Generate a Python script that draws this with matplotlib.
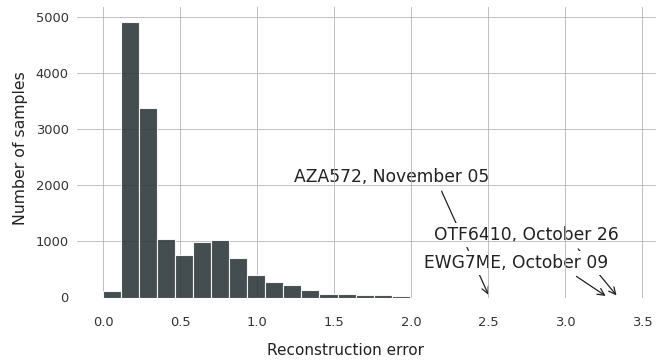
import matplotlib
matplotlib.use("Agg")
import matplotlib.pyplot as plt
import numpy as np

# histogram of reconstruction errors (17 equal bins)
bin_lo, bin_hi, n_bins = 0.0, 1.99, 17
counts = [115, 4900, 3380, 1045, 765, 990, 1015, 706, 404, 274, 214, 137, 66, 60, 43, 43, 25]

# flagged flights: label, reconstruction error, label height
flights = ["AZA572, November 05", "OTF6410, October 26", "EWG7ME, October 09"]
errors = [2.51, 3.345, 3.278]
label_y = [2150, 1115, 615]

edges = np.linspace(bin_lo, bin_hi, n_bins + 1)

fig = plt.figure(figsize=(6.57, 3.6), dpi=100)
ax = fig.add_axes([77 / 657, 1 - 297.5 / 360, 579 / 657, 290.5 / 360])

ax.set_axisbelow(True)
ax.grid(True, color="#b4b4b4", linewidth=0.6)
ax.bar(edges[:-1], counts, width=np.diff(edges), align="edge",
       color="#2f3a3c", alpha=0.9, edgecolor="white", linewidth=0.8, zorder=1)

for name, err, ty in zip(flights, errors, label_y):
    ax.annotate(name, xy=(err, 0), xytext=(err, ty), ha="right", va="center",
                fontsize=12.3, color="#222222", zorder=0.2,
                bbox=dict(boxstyle="square,pad=0.17", fc="white", ec="none"),
                arrowprops=dict(arrowstyle="->", color="#222222", lw=0.9,
                                relpos=(0.72, 0.5)))

ax.set_xlim(-0.17, 3.59)
ax.set_ylim(0, 5170)
ax.set_xticks(np.arange(0, 3.51, 0.5))
ax.set_yticks(range(0, 5001, 1000))
ax.get_ygridlines()[0].set_visible(False)
for s in ax.spines.values():
    s.set_visible(False)
ax.tick_params(axis="both", length=0, labelsize=9.4, labelcolor="#333333")
ax.tick_params(axis="x", pad=13)
ax.tick_params(axis="y", pad=6)

ax.set_xlabel("Reconstruction error", fontsize=11, color="#222222")
ax.set_ylabel("Number of samples", fontsize=11.3, color="#222222")
ax.xaxis.set_label_coords(0.464, -0.155)
ax.yaxis.set_label_coords(-0.084, 0.515)

fig.savefig("out.png", dpi=100)
